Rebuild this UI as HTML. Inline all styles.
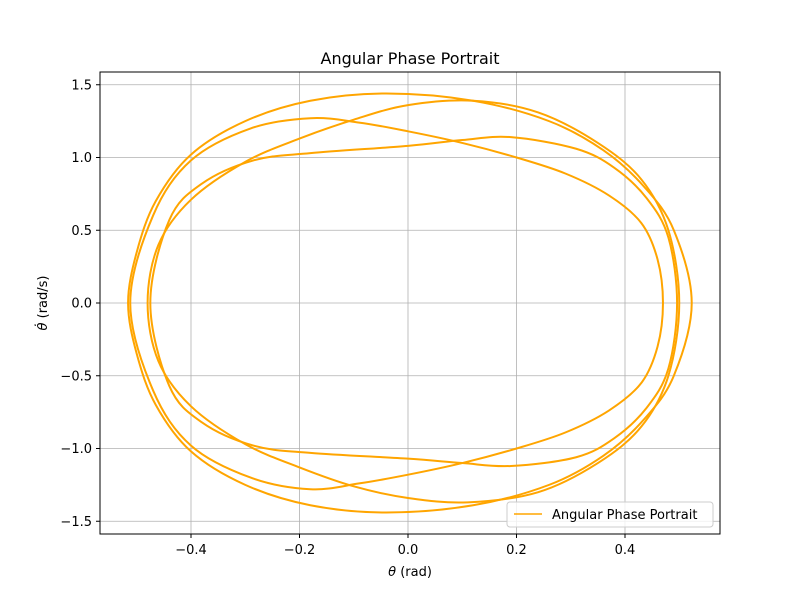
<!DOCTYPE html>
<html><head><meta charset="utf-8"><style>
body{margin:0;background:#fff}
svg text{font-family:"DejaVu Sans","Liberation Sans",sans-serif;fill:#000}
</style></head><body>
<svg width="800" height="600">
<rect width="800" height="600" fill="#fff"/>
<g id="grid"></g>
<g id="curves"></g>
<rect x="100" y="72" width="620" height="462" fill="none" stroke="#000" stroke-width="1"/>
<g id="ticks"></g>
<text x="410" y="64" font-size="16" text-anchor="middle">Angular Phase Portrait</text>
<text x="410" y="576" font-size="13" text-anchor="middle"><tspan font-style="italic">θ</tspan> (rad)</text>
<text transform="translate(47,303) rotate(-90)" font-size="13" text-anchor="middle"><tspan font-style="italic">θ̇</tspan> (rad/s)</text>
<g>
<rect x="507" y="502" width="206" height="25" rx="3" fill="#fff" fill-opacity="0.8" stroke="#ccc"/>
<line x1="514" y1="514" x2="542" y2="514" stroke="#FFA500" stroke-width="1.5"/>
<text x="552" y="519" font-size="13">Angular Phase Portrait</text>
</g>
</svg>
<script>
const xTicks=[-0.4,-0.2,0,0.2,0.4];
const yTicks=[-1.5,-1.0,-0.5,0,0.5,1.0,1.5];
// top arcs (right -> left), bottom arcs (left -> right)
const aTopTheta=[0.523,0.49,0.435,0.36,0.26,0.12,-0.04,-0.18,-0.3,-0.40,-0.465,-0.50];
const aTopOmega=[0,0.5,0.8,1.05,1.25,1.39,1.44,1.39,1.25,1.02,0.7,0.35];
const aBotTheta=[-0.516,-0.50,-0.465,-0.40,-0.3,-0.18,-0.04,0.12,0.26,0.36,0.435,0.49];
const aBotOmega=[0,-0.35,-0.7,-1.02,-1.25,-1.39,-1.44,-1.39,-1.25,-1.05,-0.8,-0.5];
const bTopTheta=[0.50,0.48,0.43,0.35,0.24,0.12,0,-0.1,-0.2,-0.3,-0.40,-0.46];
const bTopOmega=[0,0.5,0.85,1.1,1.31,1.39,1.36,1.26,1.13,0.97,0.71,0.4];
const bBotTheta=[-0.48,-0.46,-0.40,-0.3,-0.2,-0.1,0,0.11,0.24,0.35,0.43,0.48];
const bBotOmega=[0,-0.4,-0.71,-0.97,-1.13,-1.26,-1.34,-1.37,-1.3,-1.1,-0.85,-0.5];
const cTopTheta=[0.47,0.46,0.43,0.37,0.29,0.2,0.1,0,-0.09,-0.18,-0.29,-0.40,-0.47];
const cTopOmega=[0,0.3,0.55,0.74,0.89,1.0,1.1,1.18,1.24,1.27,1.2,0.98,0.6];
const cBotTheta=[-0.512,-0.47,-0.40,-0.29,-0.18,-0.09,0,0.1,0.2,0.29,0.37,0.43,0.46];
const cBotOmega=[0,-0.6,-0.98,-1.2,-1.28,-1.24,-1.18,-1.1,-1.0,-0.89,-0.74,-0.55,-0.3];
const dTopTheta=[0.496,0.48,0.44,0.38,0.31,0.19,0.1,0,-0.18,-0.285,-0.38,-0.44];
const dTopOmega=[0,0.45,0.72,0.93,1.06,1.14,1.12,1.08,1.03,0.98,0.82,0.57];
const dBotTheta=[-0.475,-0.44,-0.38,-0.285,-0.18,0,0.1,0.19,0.31,0.38,0.44,0.48];
const dBotOmega=[0,-0.57,-0.82,-0.98,-1.03,-1.07,-1.1,-1.12,-1.06,-0.93,-0.72,-0.45];
const loops=[[aTopTheta.concat(aBotTheta),aTopOmega.concat(aBotOmega)],
 [bTopTheta.concat(bBotTheta),bTopOmega.concat(bBotOmega)],
 [cTopTheta.concat(cBotTheta),cTopOmega.concat(cBotOmega)],
 [dTopTheta.concat(dBotTheta),dTopOmega.concat(dBotOmega)]];
const NS="http://www.w3.org/2000/svg";
const X=v=>408+v*542.5, Y=v=>303-v*145.5;
const g=document.getElementById('grid'), t=document.getElementById('ticks'), c=document.getElementById('curves');
function mk(tag,attrs,parent){const e=document.createElementNS(NS,tag);for(const k in attrs)e.setAttribute(k,attrs[k]);parent.appendChild(e);return e;}
const fmt=v=>(v<0?'−':'')+Math.abs(v).toFixed(1);
xTicks.forEach(v=>{
 const l=mk('line',{x1:X(v),x2:X(v),y1:72,y2:534,stroke:'#b0b0b0','stroke-width':0.8},g);
 
 
 mk('line',{x1:X(v),x2:X(v),y1:534,y2:538,stroke:'#000'},t);
 const tx=mk('text',{x:X(v),y:554,'font-size':13,'text-anchor':'middle'},t);tx.textContent=fmt(v);
 
 
});
yTicks.forEach(v=>{
 const l=mk('line',{x1:100,x2:720,y1:Y(v),y2:Y(v),stroke:'#b0b0b0','stroke-width':0.8},g);
 
 
 mk('line',{x1:96,x2:100,y1:Y(v),y2:Y(v),stroke:'#000'},t);
 const tx=mk('text',{x:92,y:Y(v)+4.5,'font-size':13,'text-anchor':'end'},t);tx.textContent=fmt(v);
 
 
});
loops.forEach(([th,om])=>{
 const n=th.length,P=th.map((v,i)=>[X(v),Y(om[i])]);
 let d='M'+P[0][0]+','+P[0][1];
 for(let i=0;i<n;i++){
  const p0=P[(i-1+n)%n],p1=P[i],p2=P[(i+1)%n],p3=P[(i+2)%n];
  d+=` C${p1[0]+(p2[0]-p0[0])/6},${p1[1]+(p2[1]-p0[1])/6} ${p2[0]-(p3[0]-p1[0])/6},${p2[1]-(p3[1]-p1[1])/6} ${p2[0]},${p2[1]}`;
 }
 const p=mk('path',{d:d,fill:'none',stroke:'#FFA500','stroke-width':2},c);
 
 
});
</script>
</body></html>
